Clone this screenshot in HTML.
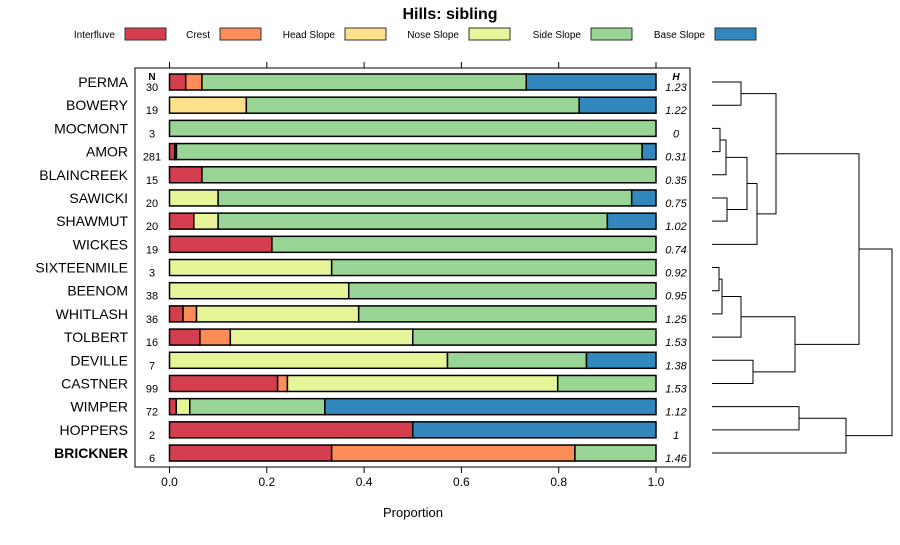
<!DOCTYPE html>
<html><head><meta charset="utf-8"><style>
body{margin:0;background:#fff;}
svg{font-family:"Liberation Sans",sans-serif;}
</style></head><body>
<svg id="c" width="900" height="540" xmlns="http://www.w3.org/2000/svg">
<text x="450" y="19" text-anchor="middle" font-size="16" font-weight="bold">Hills: sibling</text>
<g id="legend"></g>
<g id="panel"></g>
<g id="dendro" stroke="#000" stroke-width="1" fill="none"></g>
</svg>
<script>
const classes = ["Interfluve","Crest","Head Slope","Nose Slope","Side Slope","Base Slope"];
const colors = ["#D53E4F","#FC8D59","#FEE08B","#E6F598","#99D594","#3288BD"];
const series = ["PERMA","BOWERY","MOCMONT","AMOR","BLAINCREEK","SAWICKI","SHAWMUT","WICKES","SIXTEENMILE","BEENOM","WHITLASH","TOLBERT","DEVILLE","CASTNER","WIMPER","HOPPERS","BRICKNER"];
const nValues = [30,19,3,281,15,20,20,19,3,38,36,16,7,99,72,2,6];
const hValues = ["1.23","1.22","0","0.31","0.35","0.75","1.02","0.74","0.92","0.95","1.25","1.53","1.38","1.53","1.12","1","1.46"];
const interfluve = [1/30,0,0,3/281,1/15,0,0.05,4/19,0,0,1/36,1/16,0,22/99,1/72,0.5,2/6];
const crest      = [1/30,0,0,1/281,0,0,0,0,0,0,1/36,1/16,0,2/99,0,0,3/6];
const headSlope  = [0,3/19,0,0,0,0,0,0,0,0,0,0,0,0,0,0,0];
const noseSlope  = [0,0,0,0,0,0.1,0.05,0,1/3,14/38,12/36,6/16,4/7,55/99,2/72,0,0];
const sideSlope  = [20/30,13/19,1,269/281,14/15,0.85,0.8,15/19,2/3,24/38,22/36,8/16,2/7,20/99,20/72,0,1/6];
const baseSlope  = [8/30,3/19,0,8/281,0,0.05,0.1,0,0,0,0,0,1/7,0,49/72,0.5,0];
const xTicks = [0,0.2,0.4,0.6,0.8,1.0];
const tickLabels = ["0.0","0.2","0.4","0.6","0.8","1.0"];

const NS="http://www.w3.org/2000/svg";
function mk(tag,attrs,parent,txt){const e=document.createElementNS(NS,tag);for(const k in attrs)e.setAttribute(k,attrs[k]);if(txt!==undefined)e.textContent=txt;parent.appendChild(e);return e;}
const X0=169.5,XW=486.5;
const xs=v=>X0+v*XW;
const ys=i=>82+i*23.19;

// legend
const lg=document.getElementById('legend');
const legTextEnd=[115,210,335,459,581,705];
classes.forEach((c,i)=>{
  const t=mk('text',{x:legTextEnd[i],y:38,'text-anchor':'end','font-size':10},lg,c);
  
  
  const r=mk('rect',{x:legTextEnd[i]+10,y:28,width:41,height:12,fill:colors[i],stroke:'#333','stroke-width':1},lg);
  
  
});

// panel
const p=document.getElementById('panel');
mk('rect',{x:135,y:68,width:555,height:399,fill:'none',stroke:'#000','stroke-width':1},p);
xTicks.forEach((v,i)=>{
  const x=xs(v);
  mk('line',{x1:x,x2:x,y1:62,y2:68,stroke:'#000'},p);
  mk('line',{x1:x,x2:x,y1:467,y2:473,stroke:'#000'},p);
  const t=mk('text',{x:x,y:486,'text-anchor':'middle','font-size':12},p,tickLabels[i]);
  
  
});
const xt=mk('text',{x:413,y:517,'text-anchor':'middle','font-size':13},p,'Proportion');


mk('text',{x:152,y:80,'text-anchor':'middle','font-size':10,'font-weight':'bold'},p,'N');
mk('text',{x:676,y:80,'text-anchor':'middle','font-size':10,'font-weight':'bold','font-style':'italic'},p,'H');
const vals=[interfluve,crest,headSlope,noseSlope,sideSlope,baseSlope];
series.forEach((s,i)=>{
  const y=ys(i);
  const lab=mk('text',{x:128,y:y+5,'text-anchor':'end','font-size':14,'font-weight':s==='BRICKNER'?'bold':'normal'},p,s);
  
  
  const n=mk('text',{x:152,y:y+9,'text-anchor':'middle','font-size':11},p,String(nValues[i]));
  
  
  const h=mk('text',{x:676,y:y+9,'text-anchor':'middle','font-size':11,'font-style':'italic'},p,hValues[i]);
  
  
  let acc=0;
  vals.forEach((arr,k)=>{
    const v=arr[i];
    if(v>0){
      const r=mk('rect',{x:xs(acc),y:y-8,width:xs(acc+v)-xs(acc),height:16,fill:colors[k],stroke:'#000','stroke-width':1.5},p);
      
      
    }
    acc+=v;
  });
});

// dendrogram
const merges=[[0,1,741],[2,3,720],[-2,4,726],[5,6,727],[-3,-4,747],[-5,7,757],[-1,-6,776],[8,9,719],[-8,10,722],[-9,11,741],[12,13,753],[-10,-11,795],[-7,-12,859],[14,15,799],[-14,16,846],[-13,-15,892]];
const dg=document.getElementById('dendro');
const pos=[];
function node(id){return id>=0?{x:712,y:ys(id)}:pos[-id-1];}
merges.forEach(m=>{
  const a=node(m[0]),b=node(m[1]),x=m[2];
  mk('path',{d:`M${a.x},${a.y}H${x}V${b.y}H${b.x}`},dg);
  pos.push({x:x,y:(a.y+b.y)/2});
});
</script>
</body></html>
